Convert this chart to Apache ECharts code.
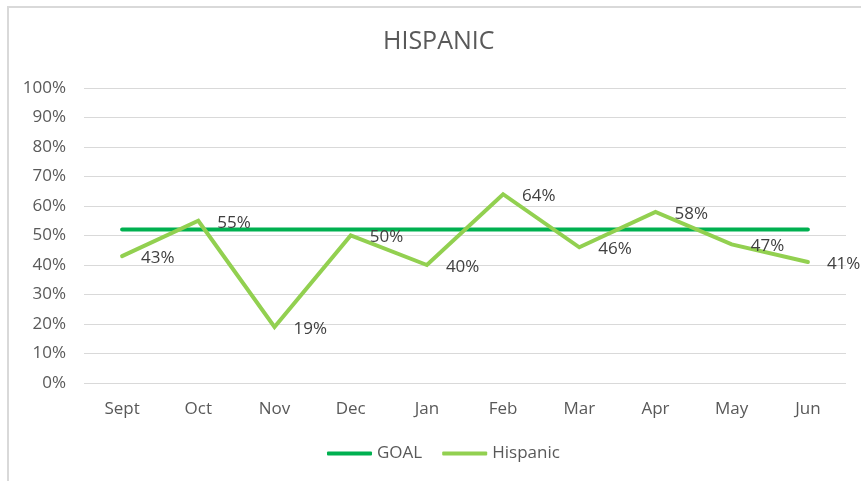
<!DOCTYPE html>
<html>
<head>
<meta charset="utf-8">
<script src="https://cdn.jsdelivr.net/npm/echarts@6/dist/echarts.min.js"></script>
<style>
  html, body { margin: 0; padding: 0; background: #fff; }
  #frame { position: absolute; left: 7px; top: 6px; width: 900px; height: 500px;
           border-left: 2px solid #d9d9d9; border-top: 2px solid #d9d9d9; box-sizing: border-box; }
  #chart { position: absolute; left: 0; top: 0; width: 861px; height: 481px; }
</style>
</head>
<body>
<div id="frame"></div>
<div id="chart"></div>
<script>
// Monthly categories and percentages
const months = ['Sept', 'Oct', 'Nov', 'Dec', 'Jan', 'Feb', 'Mar', 'Apr', 'May', 'Jun'];
const hispanic = [43, 55, 19, 50, 40, 64, 46, 58, 47, 41];
const goal = [52, 52, 52, 52, 52, 52, 52, 52, 52, 52];

const FONT = '"Open Sans", sans-serif';
const TEXT = '#595959';

const chart = echarts.init(document.getElementById('chart'), null, { renderer: 'canvas' });
chart.setOption({
  animation: false,
  textStyle: { fontFamily: FONT },
  title: {
    text: 'HISPANIC',
    left: 383,
    top: 29,
    padding: 0,
    textStyle: { fontFamily: FONT, fontSize: 25, fontWeight: 'normal', color: TEXT }
  },
  legend: {
    bottom: 14,
    left: 322,
    itemWidth: 45,
    itemHeight: 4,
    itemGap: 20,
    icon: 'roundRect',
    textStyle: { fontFamily: FONT, fontSize: 17, color: TEXT, padding: [0, 0, 0, 0] },
    data: ['GOAL', 'Hispanic']
  },
  grid: { left: 84, right: 15, top: 88, bottom: 98, containLabel: false },
  xAxis: {
    type: 'category',
    data: months,
    boundaryGap: true,
    axisLine: { show: false },
    axisTick: { show: false },
    axisLabel: { color: TEXT, fontSize: 17, margin: 18, fontFamily: FONT }
  },
  yAxis: {
    type: 'value',
    min: 0,
    max: 100,
    interval: 10,
    axisLine: { show: false },
    axisTick: { show: false },
    splitLine: { lineStyle: { color: '#d9d9d9', width: 1 } },
    axisLabel: { color: TEXT, fontSize: 17, margin: 18, fontFamily: FONT, formatter: '{value}%' }
  },
  series: [
    {
      name: 'GOAL',
      type: 'line',
      data: goal,
      symbol: 'none',
      lineStyle: { color: '#00B050', width: 4, cap: 'round' },
      itemStyle: { color: '#00B050' },
      z: 2
    },
    {
      name: 'Hispanic',
      type: 'line',
      data: hispanic,
      symbol: 'circle',
      symbolSize: 0,
      showSymbol: true,
      lineStyle: { color: '#92D050', width: 4, cap: 'round', join: 'miter' },
      itemStyle: { color: '#92D050' },
      z: 3,
      label: {
        show: true,
        position: 'right',
        distance: 19,
        offset: [0, 2],
        color: '#404040',
        fontSize: 17,
        fontFamily: FONT,
        formatter: p => p.value + '%'
      }
    }
  ]
});
</script>
</body>
</html>
